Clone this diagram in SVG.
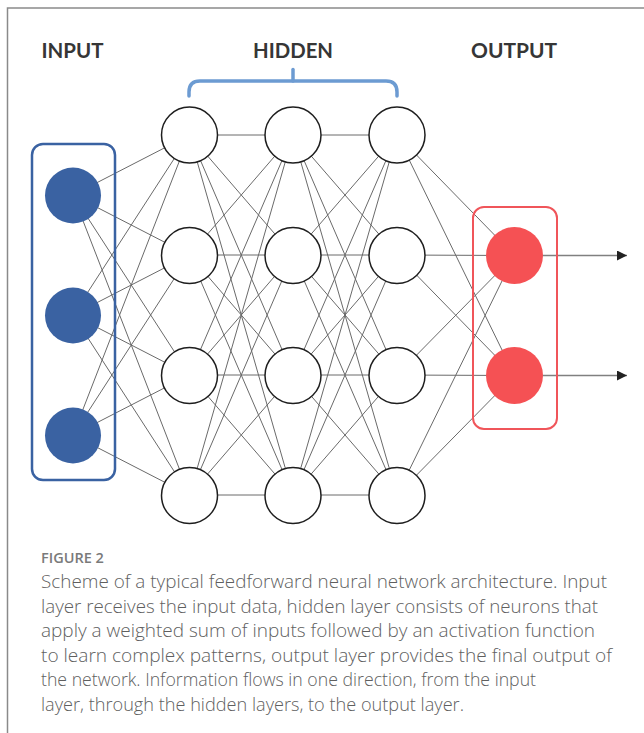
<svg xmlns="http://www.w3.org/2000/svg" width="644" height="733" viewBox="0 0 644 733">
  <style>
    .frame { stroke: #8a8a8a; stroke-width: 1.5; fill: none; }
    .label { font-family: Lato, "Open Sans", sans-serif; font-weight: 700; font-size: 21px; fill: #363636; }
    .edge { stroke: #6a6a6a; stroke-width: 1; }
    .hid { fill: #ffffff; stroke: #1e1e1e; stroke-width: 1.5; }
    .in { fill: #3a62a2; }
    .out { fill: #f55154; }
    .flow { stroke: #808080; stroke-width: 1.5; }
    .fig { font-family: "Open Sans", Lato, sans-serif; font-weight: 600; font-size: 14.5px; fill: #7a7a7a; }
    .cap { font-family: "Open Sans", Lato, sans-serif; font-weight: 300; font-size: 17.5px; fill: #5f5f5f; }
  </style>
  <defs>
    <marker id="arrow" viewBox="0 0 10 10" refX="10" refY="5" markerWidth="10" markerHeight="10" markerUnits="userSpaceOnUse" orient="auto">
      <path d="M0,0 L10,5 L0,10 z" fill="#222222"/>
    </marker>
  </defs>

  <!-- page frame -->
  <path class="frame" d="M7.5,733 V8 H644"/>

  <!-- layer titles -->
  <g id="titles">
    <text class="label" x="41.5" y="58" textLength="62" lengthAdjust="spacingAndGlyphs">INPUT</text>
    <text class="label" x="253" y="58" textLength="80" lengthAdjust="spacingAndGlyphs">HIDDEN</text>
    <text class="label" x="471" y="58" textLength="86" lengthAdjust="spacingAndGlyphs">OUTPUT</text>
  </g>

  <!-- bracket over the hidden layers -->
  <g id="bracket" fill="none" stroke="#6c9bd2" stroke-width="3.5" stroke-linecap="round">
    <path d="M189,96 V92 Q189,81 200,81 H386 Q397,81 397,92 V96"/>
    <path d="M293,81 V69.5"/>
  </g>

  <!-- connections between layers -->
  <g id="connectors">
    <!-- input to hidden 1 -->
    <line class="edge" x1="73" y1="195" x2="189.5" y2="135"/>
    <line class="edge" x1="73" y1="195" x2="189.5" y2="255"/>
    <line class="edge" x1="73" y1="195" x2="189.5" y2="375"/>
    <line class="edge" x1="73" y1="195" x2="189.5" y2="495"/>
    <line class="edge" x1="73" y1="315" x2="189.5" y2="135"/>
    <line class="edge" x1="73" y1="315" x2="189.5" y2="255"/>
    <line class="edge" x1="73" y1="315" x2="189.5" y2="375"/>
    <line class="edge" x1="73" y1="315" x2="189.5" y2="495"/>
    <line class="edge" x1="73" y1="435" x2="189.5" y2="135"/>
    <line class="edge" x1="73" y1="435" x2="189.5" y2="255"/>
    <line class="edge" x1="73" y1="435" x2="189.5" y2="375"/>
    <line class="edge" x1="73" y1="435" x2="189.5" y2="495"/>
    <!-- hidden 1 to hidden 2 -->
    <line class="edge" x1="189.5" y1="135" x2="293" y2="135"/>
    <line class="edge" x1="189.5" y1="135" x2="293" y2="255"/>
    <line class="edge" x1="189.5" y1="135" x2="293" y2="375"/>
    <line class="edge" x1="189.5" y1="135" x2="293" y2="495"/>
    <line class="edge" x1="189.5" y1="255" x2="293" y2="135"/>
    <line class="edge" x1="189.5" y1="255" x2="293" y2="255"/>
    <line class="edge" x1="189.5" y1="255" x2="293" y2="375"/>
    <line class="edge" x1="189.5" y1="255" x2="293" y2="495"/>
    <line class="edge" x1="189.5" y1="375" x2="293" y2="135"/>
    <line class="edge" x1="189.5" y1="375" x2="293" y2="255"/>
    <line class="edge" x1="189.5" y1="375" x2="293" y2="375"/>
    <line class="edge" x1="189.5" y1="375" x2="293" y2="495"/>
    <line class="edge" x1="189.5" y1="495" x2="293" y2="135"/>
    <line class="edge" x1="189.5" y1="495" x2="293" y2="255"/>
    <line class="edge" x1="189.5" y1="495" x2="293" y2="375"/>
    <line class="edge" x1="189.5" y1="495" x2="293" y2="495"/>
    <!-- hidden 2 to hidden 3 -->
    <line class="edge" x1="293" y1="135" x2="397" y2="135"/>
    <line class="edge" x1="293" y1="135" x2="397" y2="255"/>
    <line class="edge" x1="293" y1="135" x2="397" y2="375"/>
    <line class="edge" x1="293" y1="135" x2="397" y2="495"/>
    <line class="edge" x1="293" y1="255" x2="397" y2="135"/>
    <line class="edge" x1="293" y1="255" x2="397" y2="255"/>
    <line class="edge" x1="293" y1="255" x2="397" y2="375"/>
    <line class="edge" x1="293" y1="255" x2="397" y2="495"/>
    <line class="edge" x1="293" y1="375" x2="397" y2="135"/>
    <line class="edge" x1="293" y1="375" x2="397" y2="255"/>
    <line class="edge" x1="293" y1="375" x2="397" y2="375"/>
    <line class="edge" x1="293" y1="375" x2="397" y2="495"/>
    <line class="edge" x1="293" y1="495" x2="397" y2="135"/>
    <line class="edge" x1="293" y1="495" x2="397" y2="255"/>
    <line class="edge" x1="293" y1="495" x2="397" y2="375"/>
    <line class="edge" x1="293" y1="495" x2="397" y2="495"/>
    <!-- hidden 3 to output -->
    <line class="edge" x1="397" y1="135" x2="514.5" y2="255.5"/>
    <line class="edge" x1="397" y1="135" x2="514.5" y2="375.5"/>
    <line class="edge" x1="397" y1="255" x2="514.5" y2="255.5"/>
    <line class="edge" x1="397" y1="255" x2="514.5" y2="375.5"/>
    <line class="edge" x1="397" y1="375" x2="514.5" y2="255.5"/>
    <line class="edge" x1="397" y1="375" x2="514.5" y2="375.5"/>
    <line class="edge" x1="397" y1="495" x2="514.5" y2="255.5"/>
    <line class="edge" x1="397" y1="495" x2="514.5" y2="375.5"/>
    <!-- outgoing arrows -->
    <line class="flow" x1="543" y1="255.5" x2="627" y2="255.5" marker-end="url(#arrow)"/>
    <line class="flow" x1="543" y1="375.5" x2="627" y2="375.5" marker-end="url(#arrow)"/>
  </g>

  <!-- input layer -->
  <g id="input-layer">
    <rect x="32" y="144" width="83" height="336" rx="11" fill="none" stroke="#3a62a2" stroke-width="2.5"/>
    <g id="in1"><circle class="in" cx="73" cy="195.5" r="28"/></g>
    <g id="in2"><circle class="in" cx="73" cy="315.5" r="28"/></g>
    <g id="in3"><circle class="in" cx="73" cy="435.5" r="28"/></g>
  </g>

  <!-- hidden layers -->
  <g id="hidden-1">
    <g id="h1a"><circle class="hid" cx="189.5" cy="135" r="28"/></g>
    <g id="h1b"><circle class="hid" cx="189.5" cy="255.5" r="28"/></g>
    <g id="h1c"><circle class="hid" cx="189.5" cy="375.5" r="28"/></g>
    <g id="h1d"><circle class="hid" cx="189.5" cy="495.5" r="28"/></g>
  </g>
  <g id="hidden-2">
    <g id="h2a"><circle class="hid" cx="293" cy="135" r="28"/></g>
    <g id="h2b"><circle class="hid" cx="293" cy="255.5" r="28"/></g>
    <g id="h2c"><circle class="hid" cx="293" cy="375.5" r="28"/></g>
    <g id="h2d"><circle class="hid" cx="293" cy="495.5" r="28"/></g>
  </g>
  <g id="hidden-3">
    <g id="h3a"><circle class="hid" cx="397" cy="135" r="28"/></g>
    <g id="h3b"><circle class="hid" cx="397" cy="255.5" r="28"/></g>
    <g id="h3c"><circle class="hid" cx="397" cy="375.5" r="28"/></g>
    <g id="h3d"><circle class="hid" cx="397" cy="495.5" r="28"/></g>
  </g>

  <!-- output layer -->
  <g id="output-layer">
    <rect x="473" y="207" width="84" height="222" rx="11" fill="none" stroke="#f0555a" stroke-width="2"/>
    <g id="out1"><circle class="out" cx="514.5" cy="255.5" r="28.5"/></g>
    <g id="out2"><circle class="out" cx="514.5" cy="375.5" r="28.5"/></g>
  </g>

  <!-- caption -->
  <g id="caption">
    <text class="fig" x="41" y="563">FIGURE 2</text>
    <text class="cap" x="41" y="588" textLength="566" lengthAdjust="spacingAndGlyphs">Scheme of a typical feedforward neural network architecture. Input</text>
    <text class="cap" x="41" y="612.5" textLength="557" lengthAdjust="spacingAndGlyphs">layer receives the input data, hidden layer consists of neurons that</text>
    <text class="cap" x="41" y="637" textLength="554" lengthAdjust="spacingAndGlyphs">apply a weighted sum of inputs followed by an activation function</text>
    <text class="cap" x="41" y="661.5" textLength="571" lengthAdjust="spacingAndGlyphs">to learn complex patterns, output layer provides the final output of</text>
    <text class="cap" x="41" y="686" textLength="495" lengthAdjust="spacingAndGlyphs">the network. Information flows in one direction, from the input</text>
    <text class="cap" x="41" y="710.5" textLength="423" lengthAdjust="spacingAndGlyphs">layer, through the hidden layers, to the output layer.</text>
  </g>
</svg>
